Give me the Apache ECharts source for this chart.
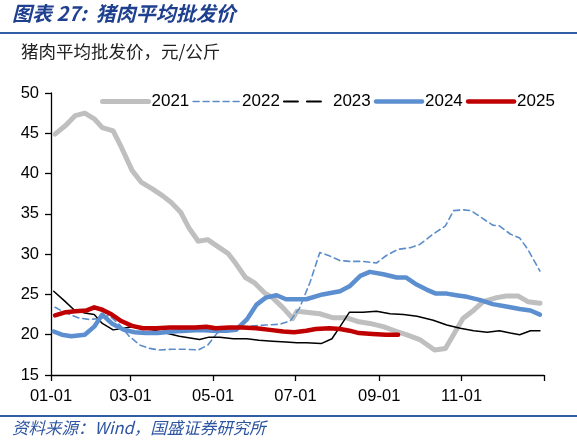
<!DOCTYPE html>
<html>
<head>
<meta charset="utf-8">
<script src="https://cdn.jsdelivr.net/npm/echarts@6/dist/echarts.min.js"></script>
<style>
html,body{margin:0;padding:0;background:#fff;}
#chart{width:577px;height:447px;}
</style>
</head>
<body>
<div id="chart"></div>
<script>
// ---- data (x = day of year, y = 元/公斤) ----
var seriesNames = ['2021', '2022', '2023', '2024', '2025'];
var tickDays = [0, 59, 120, 181, 243, 304, 365];
var tickLabels = ['01-01', '03-01', '05-01', '07-01', '09-01', '11-01', ''];
var yTicks = [15, 20, 25, 30, 35, 40, 45, 50];

var s2021 = [[3,44.9],[11,46.0],[18,47.2],[25,47.5],[32,46.8],[38,45.7],[46,45.3],[52,43.3],[60,40.4],[67,38.9],[75,38.1],[83,37.2],[89,36.4],[96,35.2],[102,33.3],[109,31.6],[116,31.8],[123,31.0],[131,30.1],[137,28.8],[144,27.1],[151,26.4],[158,25.2],[164,24.6],[172,23.3],[179,22.0],[182,22.9],[189,22.8],[199,22.6],[209,22.1],[219,22.1],[228,21.6],[236,21.4],[246,21.0],[256,20.4],[263,20.0],[273,19.4],[284,18.1],[292,18.3],[298,20.0],[305,22.0],[312,22.9],[320,24.1],[330,24.6],[337,24.8],[346,24.8],[353,24.1],[362,23.9]];
var s2022 = [[3,23.4],[11,22.7],[20,22.1],[28,21.9],[36,22.0],[43,22.4],[51,21.2],[58,19.8],[66,18.7],[73,18.3],[80,18.1],[90,18.2],[100,18.2],[109,18.1],[116,18.7],[123,20.2],[130,20.6],[140,20.9],[150,21.1],[159,21.2],[169,21.3],[177,21.7],[184,23.3],[192,26.6],[199,30.2],[206,29.8],[214,29.2],[221,29.1],[231,29.1],[241,28.9],[248,29.8],[257,30.6],[266,30.8],[273,31.2],[283,32.5],[292,33.5],[298,35.4],[305,35.5],[311,35.4],[319,34.5],[327,33.6],[332,33.5],[340,32.5],[347,32.0],[353,30.6],[362,27.9]];
var s2023 = [[2,25.4],[10,24.2],[17,23.1],[25,22.7],[32,22.5],[38,21.4],[46,20.6],[54,20.8],[60,21.0],[66,20.8],[75,20.6],[85,20.2],[95,19.8],[103,19.6],[110,19.4],[117,19.7],[125,19.7],[135,19.5],[145,19.5],[154,19.3],[164,19.2],[174,19.1],[182,19.0],[189,19.0],[200,18.9],[208,19.5],[214,21.0],[221,22.8],[231,22.8],[241,22.9],[251,22.6],[261,22.5],[271,22.3],[283,21.8],[293,21.2],[303,20.8],[313,20.5],[323,20.3],[332,20.5],[340,20.2],[347,20.0],[355,20.5],[362,20.5]];
var s2024 = [[2,20.4],[8,20.0],[15,19.8],[25,20.0],[32,21.0],[38,22.5],[45,21.4],[54,20.6],[62,20.3],[70,20.2],[79,20.2],[90,20.4],[100,20.5],[110,20.6],[120,20.5],[130,20.5],[137,20.6],[145,21.9],[152,23.7],[159,24.6],[167,24.9],[174,24.4],[182,24.4],[189,24.4],[201,25.0],[214,25.4],[221,26.0],[229,27.3],[236,27.8],[246,27.5],[256,27.1],[263,27.1],[271,26.2],[278,25.6],[285,25.1],[293,25.1],[300,24.9],[308,24.7],[318,24.3],[327,23.8],[337,23.5],[347,23.2],[355,23.0],[362,22.5]];
var s2025 = [[3,22.4],[11,22.8],[18,22.9],[26,23.0],[32,23.4],[38,23.1],[45,22.5],[52,21.7],[60,21.1],[68,20.8],[78,20.8],[88,20.9],[98,20.9],[107,20.9],[115,21.0],[122,20.8],[132,20.9],[142,20.9],[152,20.8],[162,20.6],[172,20.4],[180,20.3],[189,20.5],[196,20.7],[206,20.8],[214,20.7],[221,20.5],[228,20.2],[238,20.1],[248,20.0],[257,20.0]];

var titleText = '图表 27:  猪肉平均批发价';
var unitText = '猪肉平均批发价，元/公斤';
var sourceText = '资料来源：Wind，国盛证券研究所';

// ---- chart ----
var chart = echarts.init(document.getElementById('chart'), null, {renderer: 'canvas'});
var latin = '"Liberation Sans", Arial, sans-serif';
var cjk = '"Noto Sans CJK SC", sans-serif';

var styles = {
  '2021': {color: '#BFBFBF', width: 5, type: 'solid'},
  '2022': {color: '#5B8DCB', width: 1.6, type: [6, 4]},
  '2023': {color: '#000000', width: 1.5, type: 'solid'},
  '2024': {color: '#5B8FD0', width: 4.5, type: 'solid'},
  '2025': {color: '#C00000', width: 4.5, type: 'solid'}
};
var dataMap = {'2021': s2021, '2022': s2022, '2023': s2023, '2024': s2024, '2025': s2025};

var series = seriesNames.map(function (n) {
  var st = styles[n];
  return {
    name: n,
    type: 'line',
    data: dataMap[n],
    showSymbol: false,
    symbol: 'none',
    smooth: false,
    z: n === '2025' ? 6 : (n === '2024' ? 5 : 3),
    lineStyle: {color: st.color, width: st.width, type: st.type, cap: 'round', join: 'round'},
    itemStyle: {color: st.color},
    emphasis: {disabled: true}
  };
});

chart.setOption({
  animation: false,
  backgroundColor: '#ffffff',
  grid: {left: 51, right: 33, top: 93, bottom: 72, containLabel: false},
  legend: {
    data: seriesNames.map(function (n) {
      var st = styles[n];
      var ls = {color: st.color, width: st.width, type: st.type, cap: 'round'};
      if (n === '2023') ls = {color: '#000', width: 2, type: [14, 9]};
      return {name: n, lineStyle: ls, itemStyle: {opacity: 0}};
    }),
    left: 100, top: 93, padding: 0,
    itemWidth: 46, itemHeight: 16, itemGap: 3,
    itemStyle: {opacity: 0},
    textStyle: {fontFamily: latin, fontSize: 17, color: '#000', padding: [0, 0, 0, -2]},
    selectedMode: false
  },
  xAxis: {
    type: 'value', min: 0, max: 365,
    axisLine: {show: true, onZero: false, lineStyle: {color: '#000', width: 1.3}},
    axisTick: {show: true, length: 6, customValues: tickDays, lineStyle: {color: '#000', width: 1.3}},
    axisLabel: {
      customValues: tickDays.slice(0, 6),
      formatter: function (v) { var i = tickDays.indexOf(v); return i >= 0 ? tickLabels[i] : ''; },
      fontFamily: latin, fontSize: 16.5, color: '#000', margin: 13
    },
    splitLine: {show: false}
  },
  yAxis: {
    type: 'value', min: yTicks[0], max: yTicks[yTicks.length - 1], interval: 5,
    axisLine: {show: true, lineStyle: {color: '#000', width: 1.3}},
    axisTick: {show: true, length: 6, lineStyle: {color: '#000', width: 1.3}},
    axisLabel: {fontFamily: latin, fontSize: 16.5, color: '#000', margin: 12},
    splitLine: {show: false}
  },
  graphic: [
    {type: 'text', left: 12, top: 3,
      style: {text: titleText, fontFamily: cjk, fontSize: 20, fontWeight: 'bold', fontStyle: 'italic', fill: '#1F3F8F'}},
    {type: 'rect', left: 0, top: 32, shape: {width: 577, height: 2}, style: {fill: '#2F5DA6'}},
    {type: 'text', left: 21, top: 43,
      style: {text: unitText, fontFamily: cjk, fontSize: 17.5, fill: '#222'}},
    {type: 'rect', left: 0, top: 415, shape: {width: 577, height: 2}, style: {fill: '#2F5DA6'}},
    {type: 'text', left: 12, top: 419,
      style: {text: sourceText, fontFamily: cjk, fontSize: 16.5, fontStyle: 'italic', fill: '#2E55A2'}}
  ],
  series: series
});
</script>
</body>
</html>
